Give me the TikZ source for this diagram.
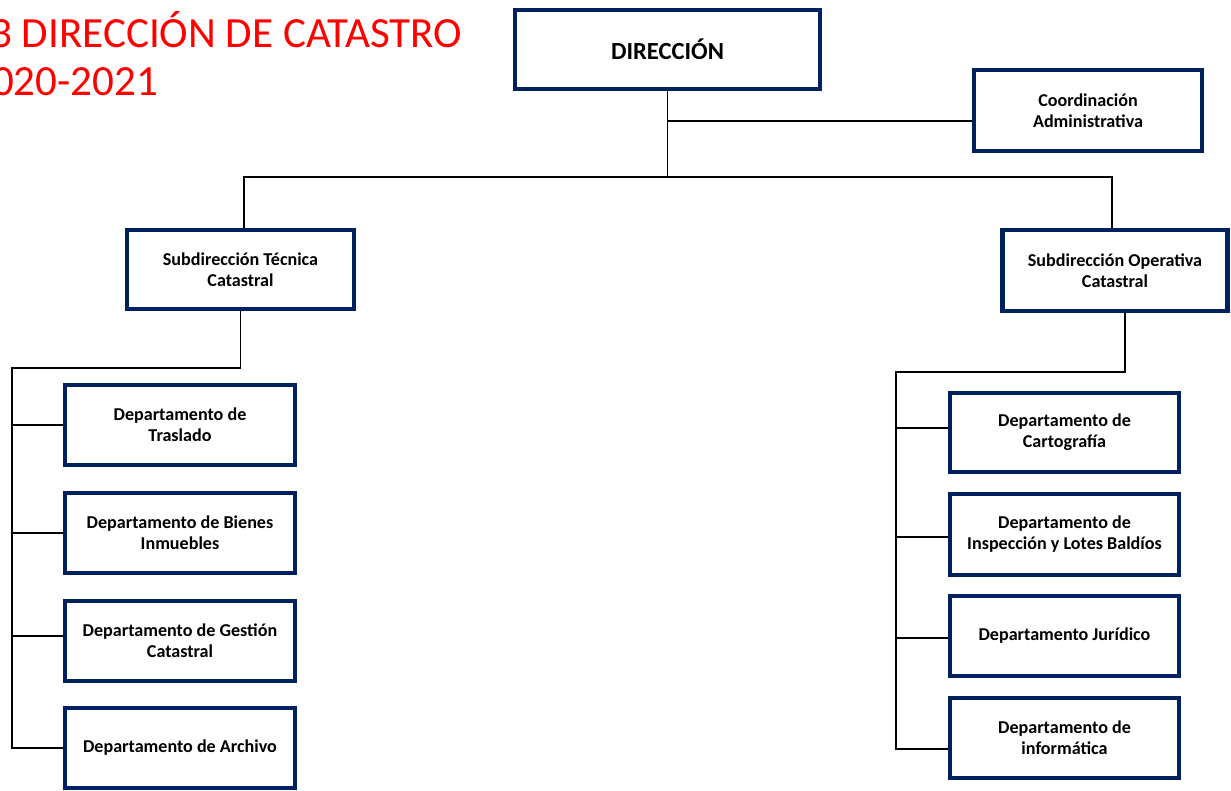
\documentclass[tikz,border=0pt]{standalone}
\usepackage{fontspec}
\setmainfont{Carlito}
\definecolor{navy}{RGB}{0,32,96}
\definecolor{titlered}{RGB}{255,0,0}
\tikzset{
  box/.style={draw=navy, line width=2.4pt, fill=white, align=center, inner sep=0pt,
    font=\bfseries\fontsize{10.3}{12}\selectfont},
  link/.style={draw=black, line width=0.8pt},
  ttl/.style={anchor=base west, text=titlered, inner sep=0pt, font=\fontsize{24.5}{28}\selectfont}
}
\begin{document}
\begin{tikzpicture}[x=0.02cm,y=-0.02cm]
\useasboundingbox (0,0) rectangle (1231,791);
\node[ttl] (t1) at (-10,48) {3 DIRECCIÓN DE CATASTRO};
\node[ttl] (t2) at (-30,95) {2020-2021};

\node[box, font=\bfseries\fontsize{14}{16}\selectfont, minimum width=6.1cm, minimum height=1.58cm] (dir) at (667.5,49.5) {DIRECCIÓN};
\node[box, minimum width=4.56cm, minimum height=1.62cm] (coord) at (1088,110.5) {Coordinación\\Administrativa};
\node[box, minimum width=4.54cm, minimum height=1.58cm] (subT) at (240.5,269.5) {Subdirección Técnica\\Catastral};
\node[box, minimum width=4.5cm, minimum height=1.62cm] (subO) at (1115,270.5) {Subdirección Operativa\\Catastral};

\node[box, minimum width=4.6cm, minimum height=1.6cm] (L1) at (180,425) {Departamento de\\Traslado};
\node[box, minimum width=4.6cm, minimum height=1.6cm] (L2) at (180,533) {Departamento de Bienes\\Inmuebles};
\node[box, minimum width=4.6cm, minimum height=1.6cm] (L3) at (180,641) {Departamento de Gestión\\Catastral};
\node[box, minimum width=4.6cm, minimum height=1.6cm] (L4) at (180,748) {Departamento de Archivo};

\node[box, minimum width=4.58cm, minimum height=1.58cm] (R1) at (1064.5,432.5) {Departamento de\\Cartografía};
\node[box, minimum width=4.58cm, minimum height=1.62cm] (R2) at (1064.5,534.5) {Departamento de\\Inspección y Lotes Baldíos};
\node[box, minimum width=4.58cm, minimum height=1.6cm] (R3) at (1064.5,636) {Departamento Jurídico};
\node[box, minimum width=4.58cm, minimum height=1.6cm] (R4) at (1064.5,738) {Departamento de\\informática};

% junction coordinates
\coordinate (topbus) at (667.5,177);
\coordinate (cj) at (667.5,121);
\coordinate (lbus) at (12,368);
\coordinate (rbus) at (896,372);

\draw[link] (dir.south) -- (topbus);
\draw[link] (cj) -- (cj -| coord.west);
\draw[link] ([xshift=0.07cm]subT.north) |- (topbus) -| ([xshift=-0.06cm]subO.north);

\draw[link] (subT.south) |- (lbus) -- (lbus |- L4.west) -- (L4.west);
\draw[link] (lbus |- L1.west) -- (L1.west);
\draw[link] (lbus |- L2.west) -- (L2.west);
\draw[link] ([yshift=0.1cm]lbus |- L3.west) -- ([yshift=0.1cm]L3.west);

\draw[link] ([xshift=0.2cm]subO.south) |- (rbus) -- ([yshift=-0.22cm]rbus |- R4.west) -- ([yshift=-0.22cm]R4.west);
\draw[link] ([yshift=0.09cm]rbus |- R1.west) -- ([yshift=0.09cm]R1.west);
\draw[link] ([yshift=-0.05cm]rbus |- R2.west) -- ([yshift=-0.05cm]R2.west);
\draw[link] ([yshift=-0.04cm]rbus |- R3.west) -- ([yshift=-0.04cm]R3.west);
\end{tikzpicture}
\end{document}
